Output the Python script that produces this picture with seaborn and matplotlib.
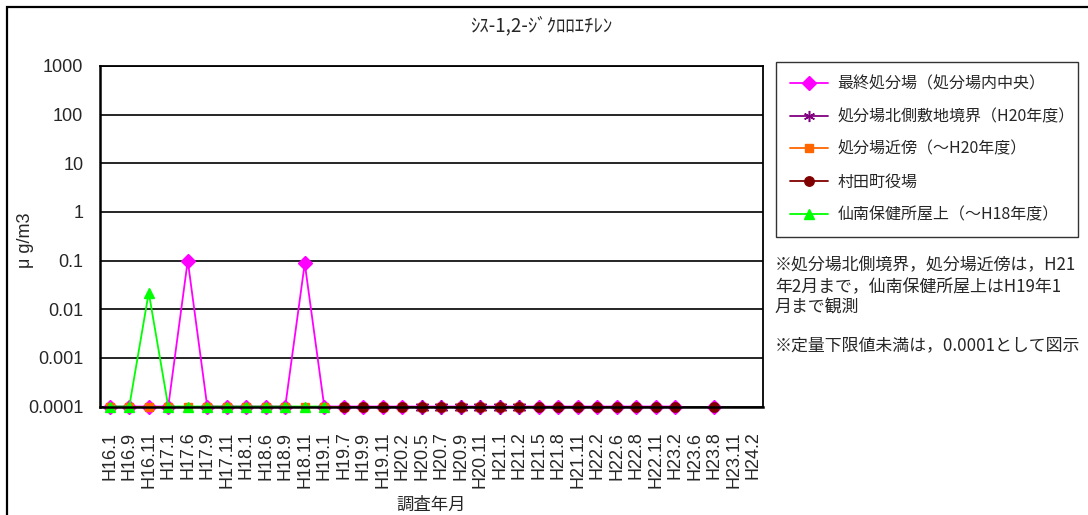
import matplotlib
matplotlib.use('Agg')
import matplotlib.pyplot as plt
from matplotlib.lines import Line2D
from matplotlib.patches import Rectangle
import pandas as pd
import seaborn as sns

# 調査年月
fechas = ['H16.1', 'H16.9', 'H16.11', 'H17.1', 'H17.6', 'H17.9', 'H17.11', 'H18.1',
          'H18.6', 'H18.9', 'H18.11', 'H19.1', 'H19.7', 'H19.9', 'H19.11', 'H20.2',
          'H20.5', 'H20.7', 'H20.9', 'H20.11', 'H21.1', 'H21.2', 'H21.5', 'H21.8',
          'H21.11', 'H22.2', 'H22.6', 'H22.8', 'H22.11', 'H23.2', 'H23.6', 'H23.8',
          'H23.11', 'H24.2']

ND = 0.0001   # 定量下限値未満
NA = None     # 未観測

saishu = [ND, ND, ND, ND, 0.1, ND, ND, ND, ND, ND, 0.088, ND, ND, ND, ND, ND, ND,
          ND, ND, ND, ND, ND, ND, ND, ND, ND, ND, ND, ND, ND, NA, ND, NA, NA]
kita = [NA, NA, NA, NA, NA, NA, NA, NA, NA, NA, NA, NA, NA, NA, NA, NA, ND,
        ND, ND, ND, ND, ND, NA, NA, NA, NA, NA, NA, NA, NA, NA, NA, NA, NA]
kinbo = [ND, ND, ND, ND, ND, ND, ND, ND, ND, ND, ND, ND, ND, ND, ND, ND, ND,
         ND, ND, ND, ND, ND, NA, NA, NA, NA, NA, NA, NA, NA, NA, NA, NA, NA]
yakuba = [NA, NA, NA, NA, NA, NA, NA, NA, NA, NA, NA, NA, ND, ND, ND, ND, ND,
          ND, ND, ND, ND, ND, ND, ND, ND, ND, ND, ND, ND, ND, NA, ND, NA, NA]
sennan = [ND, ND, 0.022, ND, ND, ND, ND, ND, ND, ND, ND, ND, NA, NA, NA, NA, NA,
          NA, NA, NA, NA, NA, NA, NA, NA, NA, NA, NA, NA, NA, NA, NA, NA, NA]

nombres = ['最終処分場（処分場内中央）', '処分場北側敷地境界（H20年度）',
           '処分場近傍（～H20年度）', '村田町役場', '仙南保健所屋上（～H18年度）']
yticks = [1e-4, 1e-3, 1e-2, 1e-1, 1, 10, 100, 1000]
ylabels = ['0.0001', '0.001', '0.01', '0.1', '1', '10', '100', '1000']

sns.set_style('white')
plt.rcParams['font.family'] = ['Noto Sans CJK JP', 'DejaVu Sans']


def to_frame(vals):
    df = pd.DataFrame({'pos': range(len(vals)), 'val': pd.to_numeric(pd.Series(vals), errors='coerce')})
    df['seg'] = df['val'].isna().cumsum()
    return df.dropna()


estilos = [
    ('#FF00FF', 'D', 7.2, 1.0),
    ('#800080', (6, 2, 0), 10, 1.1),
    ('#FF6600', 's', 6.3, 1.0),
    ('#800000', 'o', 6.8, 1.0),
    ('#00FF00', '^', 7.0, 1.0),
]
series = [saishu, kita, kinbo, yakuba, sennan]

fig = plt.figure(figsize=(10.88, 5.15), dpi=100)
ax = fig.add_axes([100/1088, 1-406.5/515, 663/1088, 340.5/515])
ax.set_yscale('log')

for vals, (color, marker, ms, mew) in zip(series, estilos):
    df = to_frame(vals)
    sns.lineplot(data=df, x='pos', y='val', units='seg', estimator=None, ax=ax,
                 color=color, marker=marker, markersize=ms, markeredgecolor=color,
                 markeredgewidth=mew, linewidth=1.3, clip_on=False, legend=False)

ax.set_xlim(-0.5, len(fechas) - 0.5)
ax.set_ylim(1e-4, 1e3)
ax.set_yticks(yticks)
ax.set_yticklabels(ylabels)
ax.minorticks_off()
ax.set_xticks(range(len(fechas)))
ax.set_xticklabels(fechas, rotation=90)
ax.set_xticks([i + 0.5 for i in range(len(fechas) - 1)], minor=True)
ax.set_xlabel('')
ax.set_ylabel('')
for lab in ax.get_xticklabels() + ax.get_yticklabels():
    lab.set_family(['Liberation Sans', 'DejaVu Sans'])
    lab.set_fontsize(13)
ax.tick_params(axis='x', which='major', length=0, pad=18)
ax.tick_params(axis='x', which='minor', direction='in', length=4, width=1, color='black')
ax.tick_params(axis='y', length=0, pad=12)
ax.yaxis.grid(True, color='black', linewidth=1.2)
ax.xaxis.grid(False)
for s in ax.spines.values():
    s.set_color('black')
    s.set_linewidth(1.3)
ax.spines['left'].set_linewidth(1.8)
ax.spines['bottom'].set_linewidth(1.8)

handles = [Line2D([0], [0], color=c, marker=m, markersize=min(ms, 8), markeredgecolor=c,
                  markeredgewidth=mew, linewidth=1.3) for c, m, ms, mew in estilos]
leg = fig.legend(handles, nombres, loc='upper left',
                 bbox_to_anchor=(776/1088, 1-235/515, 302/1088, 173/515),
                 bbox_transform=fig.transFigure, mode='expand', borderaxespad=0,
                 fontsize=11.5, handlelength=2.4, handletextpad=0.6, labelspacing=0.98,
                 fancybox=False, frameon=True, borderpad=0.85)
leg.get_frame().set_edgecolor('black')
leg.get_frame().set_linewidth(1.0)

fig.text(541/1088, 1-26/515, 'ｼｽ-1,2-ｼﾞｸﾛﾛｴﾁﾚﾝ', ha='center', va='center', fontsize=13.5)
fig.text(26/1088, 1-240/515, 'μ g/m3', rotation=90, ha='center', va='center',
         fontsize=13, family=['Liberation Sans', 'DejaVu Sans'])
fig.text(431/1088, 1-505/515, '調査年月', ha='center', va='center', fontsize=12.5)

notas = ['※処分場北側境界，処分場近傍は，H21', '年2月まで，仙南保健所屋上はH19年1',
         '月まで観測', '※定量下限値未満は，0.0001として図示']
for txt, yy in zip(notas, [265, 287, 308, 345]):
    fig.text(775/1088, 1-yy/515, txt, ha='left', va='center', fontsize=12.2)

fig.patches.append(Rectangle((7/1088, -0.1), 1.2, 1.1 - 7/515, transform=fig.transFigure,
                             fill=False, edgecolor='black', linewidth=1.6))

fig.savefig('out.png', dpi=100)
plt.close(fig)
